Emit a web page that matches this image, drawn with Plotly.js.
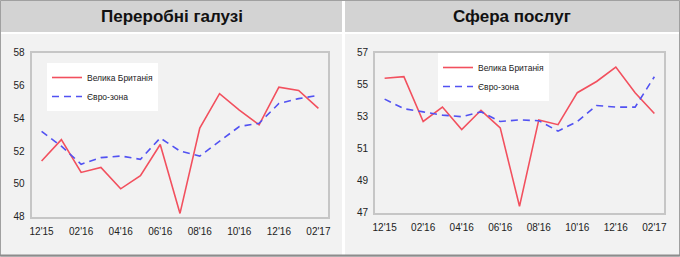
<!DOCTYPE html>
<html>
<head>
<meta charset="utf-8">
<script src="https://cdn.plot.ly/plotly-3.0.1.min.js"></script>
<style>
html,body{margin:0;padding:0;background:#fff;}
#chart{width:680px;height:257px;}
</style>
</head>
<body>
<div id="chart"></div>
<script>
const months = ["12'15","01'16","02'16","03'16","04'16","05'16","06'16","07'16","08'16","09'16","10'16","11'16","12'16","01'17","02'17"];
const tickLabels = ["12'15","02'16","04'16","06'16","08'16","10'16","12'16","02'17"];
const seriesNames = ["Велика Британія","Євро-зона"];
const panelTitles = ["Переробні галузі","Сфера послуг"];

const mfgUK = [51.4,52.7,50.7,51.0,49.7,50.5,52.4,48.2,53.4,55.5,54.5,53.6,55.9,55.7,54.6];
const mfgEZ = [53.2,52.3,51.2,51.6,51.7,51.5,52.8,52.0,51.7,52.6,53.5,53.7,54.9,55.2,55.4];
const svcUK = [55.4,55.5,52.7,53.6,52.2,53.4,52.3,47.4,52.8,52.5,54.5,55.2,56.1,54.5,53.2];
const svcEZ = [54.1,53.5,53.3,53.1,53.0,53.3,52.7,52.8,52.75,52.1,52.7,53.7,53.6,53.6,55.5];

const W = 680, H = 257;
const px = x => x / W;
const py = y => 1 - y / H;

const RED = '#f2505e';
const BLUE = '#5252f2';
const FONT = 'Liberation Sans, Arial, sans-serif';

const traces = [
  {x: months, y: mfgUK, name: seriesNames[0], type: 'scatter', mode: 'lines',
   line: {color: RED, width: 1.6}, xaxis: 'x', yaxis: 'y', legend: 'legend'},
  {x: months, y: mfgEZ, name: seriesNames[1], type: 'scatter', mode: 'lines',
   line: {color: BLUE, width: 1.6, dash: '7px,5px'}, xaxis: 'x', yaxis: 'y', legend: 'legend'},
  {x: months, y: svcUK, name: seriesNames[0], type: 'scatter', mode: 'lines',
   line: {color: RED, width: 1.6}, xaxis: 'x2', yaxis: 'y2', legend: 'legend2'},
  {x: months, y: svcEZ, name: seriesNames[1], type: 'scatter', mode: 'lines',
   line: {color: BLUE, width: 1.6, dash: '7px,5px'}, xaxis: 'x2', yaxis: 'y2', legend: 'legend2'}
];

function xax(domain) {
  return {
    domain: domain, type: 'category', categoryorder: 'array', categoryarray: months,
    range: [-0.5, 14.5], tickmode: 'array', tickvals: tickLabels, ticktext: tickLabels,
    showline: true, mirror: true, linecolor: '#c6c6c6', linewidth: 2,
    showgrid: false, zeroline: false, ticks: '', fixedrange: true,
    tickfont: {family: FONT, size: 10, color: '#222'}, ticklabelstandoff: 4
  };
}
function yax(domain, lo, hi, anchor) {
  return {
    domain: domain, range: [lo, hi], tickmode: 'linear', tick0: lo, dtick: 2,
    showline: true, mirror: true, linecolor: '#c6c6c6', linewidth: 2,
    showgrid: false, zeroline: false, ticks: '', anchor: anchor, fixedrange: true,
    tickfont: {family: FONT, size: 10, color: '#222'}, ticklabelstandoff: 3
  };
}

const shapes = [
  {type: 'rect', xref: 'paper', yref: 'paper', x0: px(0), x1: px(342), y0: py(256), y1: py(34),
   fillcolor: '#f2f2f2', line: {width: 0}, layer: 'below'},
  {type: 'rect', xref: 'paper', yref: 'paper', x0: px(345), x1: px(680), y0: py(256), y1: py(34),
   fillcolor: '#f2f2f2', line: {width: 0}, layer: 'below'},
  {type: 'rect', xref: 'paper', yref: 'paper', x0: px(0), x1: px(342), y0: py(32), y1: py(0),
   fillcolor: '#d3d3d3', line: {width: 0}, layer: 'below'},
  {type: 'rect', xref: 'paper', yref: 'paper', x0: px(345), x1: px(680), y0: py(32), y1: py(0),
   fillcolor: '#d3d3d3', line: {width: 0}, layer: 'below'},
  {type: 'rect', xref: 'paper', yref: 'paper', x0: px(0.5), x1: px(679.5), y0: py(256), y1: py(0.5),
   fillcolor: 'rgba(0,0,0,0)', line: {width: 1, color: '#a0a0a0'}, layer: 'below'},
  {type: 'line', xref: 'paper', yref: 'paper', x0: 0, x1: 1, y0: py(255.5), y1: py(255.5),
   line: {width: 2, color: '#8c8c8c'}, layer: 'below'}
];

const annotations = [
  {xref: 'paper', yref: 'paper', x: px(172), y: py(17), xanchor: 'center', yanchor: 'middle',
   text: '<b>' + panelTitles[0] + '</b>', showarrow: false,
   font: {family: FONT, size: 17, color: '#111'}},
  {xref: 'paper', yref: 'paper', x: px(512), y: py(17), xanchor: 'center', yanchor: 'middle',
   text: '<b>' + panelTitles[1] + '</b>', showarrow: false,
   font: {family: FONT, size: 17, color: '#111'}}
];

const legendBase = {
  bgcolor: '#ffffff', borderwidth: 0, itemwidth: 30,
  font: {family: FONT, size: 8.5, color: '#222'},
  xanchor: 'left', yanchor: 'top', tracegroupgap: 0, itemclick: false, itemdoubleclick: false
};

const layout = {
  width: W, height: H,
  margin: {l: 0, r: 0, t: 0, b: 0},
  paper_bgcolor: '#ffffff', plot_bgcolor: '#f2f2f2',
  showlegend: true,
  xaxis: xax([px(31.7), px(328.3)]),
  yaxis: yax([py(216.7), py(52.7)], 48, 58, 'x'),
  xaxis2: xax([px(375), px(664)]),
  yaxis2: yax([py(212.7), py(52.7)], 47, 57, 'x2'),
  legend: Object.assign({}, legendBase, {x: px(47), y: py(63)}),
  legend2: Object.assign({}, legendBase, {x: px(438), y: py(53)}),
  shapes: shapes,
  annotations: annotations,
  font: {family: FONT}
};
layout.xaxis.anchor = 'y';
layout.xaxis2.anchor = 'y2';

Plotly.newPlot('chart', traces, layout, {displayModeBar: false, staticPlot: true});
</script>
</body>
</html>
